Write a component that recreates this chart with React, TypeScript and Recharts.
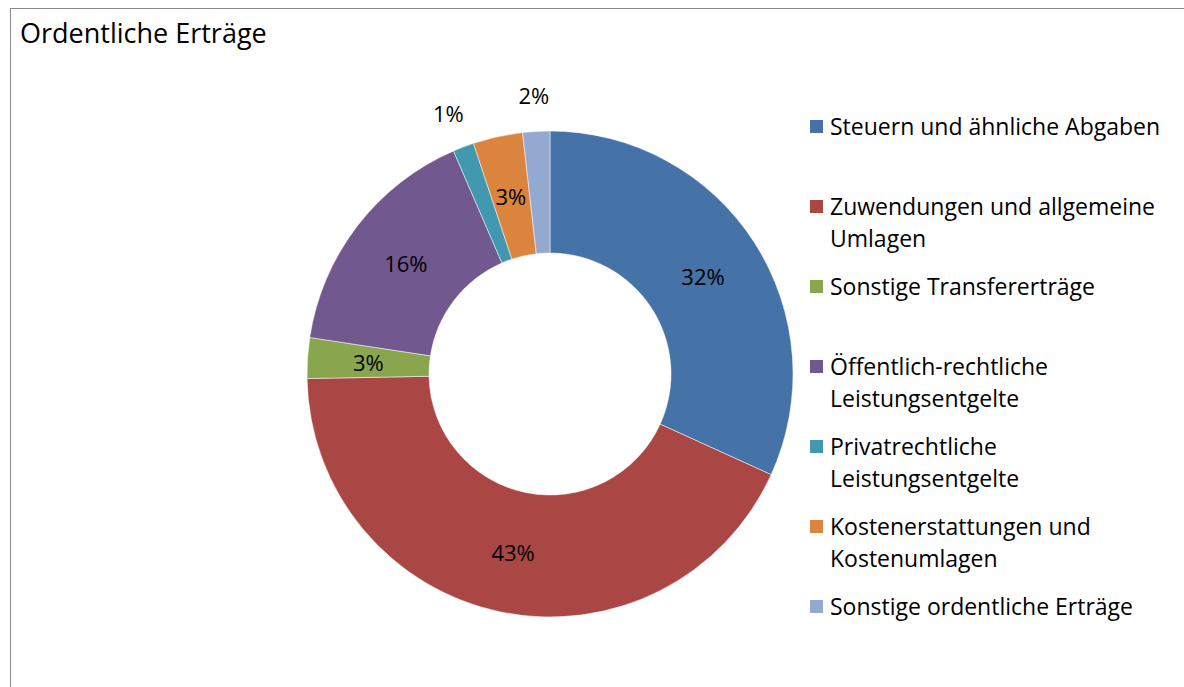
import React from "react";
import { PieChart, Pie, Cell, Legend } from "recharts";

const categories = [
  "Steuern und ähnliche Abgaben",
  "Zuwendungen und allgemeine Umlagen",
  "Sonstige Transfererträge",
  "Öffentlich-rechtliche Leistungsentgelte",
  "Privatrechtliche Leistungsentgelte",
  "Kostenerstattungen und Kostenumlagen",
  "Sonstige ordentliche Erträge",
];
const shares = [31.8, 42.9, 2.7, 16.1, 1.4, 3.3, 1.8];
const colors = ["#4572A7", "#AA4643", "#89A54E", "#71588F", "#4198AF", "#DB843D", "#93A9CF"];
const title = "Ordentliche Erträge";

const data = categories.map((name, i) => ({ name, value: shares[i] }));

const FONT = "'Open Sans', 'Noto Sans', sans-serif";
const RAD = Math.PI / 180;

const renderLabel = (props: any) => {
  const { cx, cy, midAngle, innerRadius, outerRadius, percent, index } = props;
  const dx = Math.cos(-midAngle * RAD);
  const dy = Math.sin(-midAngle * RAD);
  let x: number, y: number;
  if (percent < 0.025) {
    const r = outerRadius + 26;
    x = cx + r * dx + dx * 16;
    y = cy + r * dy + dy * 10;
  } else {
    const r = (innerRadius + outerRadius) / 2;
    x = cx + r * dx;
    y = cy + r * dy;
  }
  return (
    <text
      key={`l-${index}`}
      x={x}
      y={y}
      fill="#000"
      textAnchor="middle"
      dominantBaseline="central"
      style={{ fontFamily: FONT, fontSize: 22 }}
    >
      {`${Math.round(percent * 100)}%`}
    </text>
  );
};

const renderLegend = () => (
  <div style={{ fontFamily: FONT, fontSize: 23, color: "#000" }}>
    {categories.map((name, i) => (
      <div key={name} style={{ height: 80, display: "flex", alignItems: "flex-start" }}>
        <div
          style={{
            width: 13,
            height: 13,
            background: colors[i],
            marginTop: 10,
            marginRight: 7,
            flex: "0 0 auto",
          }}
        />
        <div style={{ width: 348, lineHeight: "32px" }}>{name}</div>
      </div>
    ))}
  </div>
);

export default function App() {
  return (
    <div style={{ position: "absolute", left: 0, top: 0, width: 1184, height: 687, overflow: "hidden", background: "#fff" }}>
      <div
        style={{
          position: "absolute",
          left: 10,
          top: 8,
          width: 1300,
          height: 800,
          border: "1.5px solid #8a8a8a",
          boxSizing: "border-box",
        }}
      />
      <div
        style={{
          position: "absolute",
          left: 20,
          top: 16,
          fontFamily: FONT,
          fontSize: 27,
          color: "#000",
          lineHeight: "34px",
        }}
      >
        {title}
      </div>
      <div style={{ position: "absolute", left: 0, top: 0 }}>
        <PieChart width={1184} height={687} margin={{ top: 0, right: 0, bottom: 0, left: 0 }}>
          <Pie
            data={data}
            dataKey="value"
            nameKey="name"
            cx={550}
            cy={374}
            innerRadius={121}
            outerRadius={243}
            startAngle={90}
            endAngle={-270}
            stroke="#ffffff"
            strokeWidth={0.5}
            label={renderLabel}
            labelLine={false}
            isAnimationActive={false}
          >
            {data.map((d, i) => (
              <Cell key={d.name} fill={colors[i]} />
            ))}
          </Pie>
          <Legend
            content={renderLegend}
            layout="vertical"
            verticalAlign="top"
            align="right"
            wrapperStyle={{ left: 810, top: 110, width: 370, right: "auto" }}
          />
        </PieChart>
      </div>
    </div>
  );
}
